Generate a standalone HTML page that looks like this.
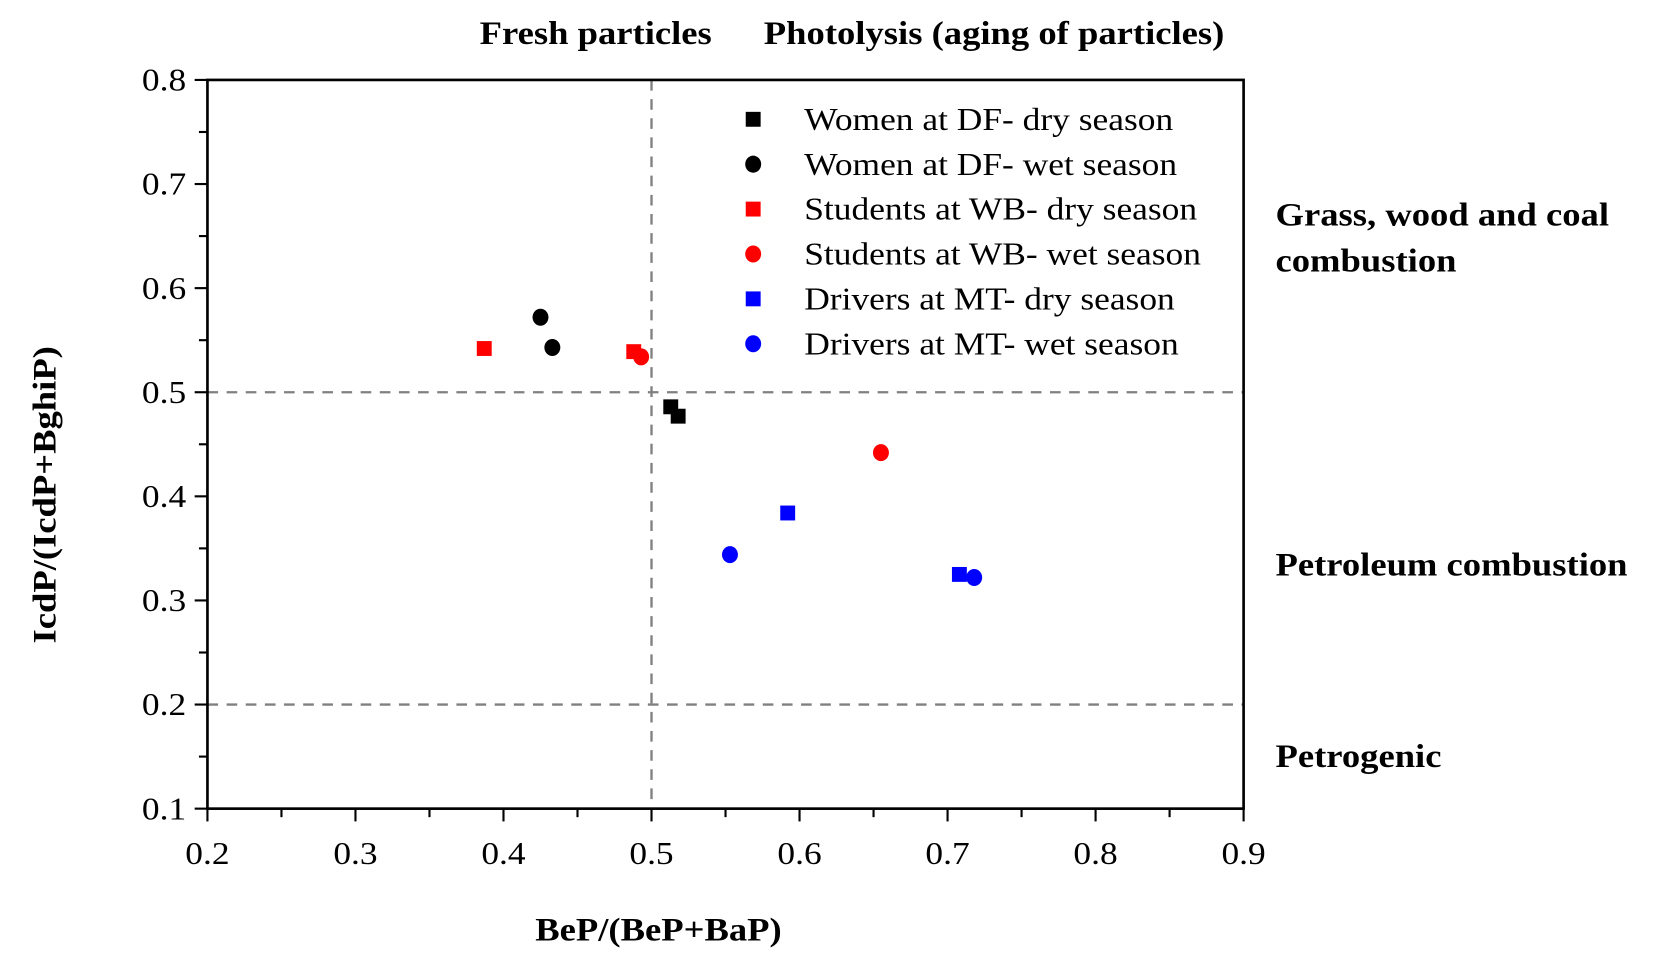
<!DOCTYPE html>
<html><head><meta charset="utf-8"><style>
html,body{margin:0;padding:0;background:#fff;}
svg{display:block;font-family:"Liberation Serif",serif;}
</style></head><body>
<svg id="chart" width="1667" height="979" viewBox="0 0 1567 920" xmlns="http://www.w3.org/2000/svg">
<g id="grid"></g>
<rect x="195" y="75" width="974" height="685" fill="none" stroke="#000" stroke-width="2.5"/>
<g id="axes"></g>
<g id="marks"></g>
<g id="legend"></g>
<text x="560" y="41" text-anchor="middle" font-size="31" font-weight="bold">Fresh particles</text>
<text x="718" y="41" font-size="31" font-weight="bold">Photolysis (aging of particles)</text>
<text x="1199" y="212" font-size="31" font-weight="bold">Grass, wood and coal</text>
<text x="1199" y="255" font-size="31" font-weight="bold">combustion</text>
<text x="1199" y="541" font-size="31" font-weight="bold">Petroleum combustion</text>
<text x="1199" y="721" font-size="31" font-weight="bold">Petrogenic</text>
<text x="619" y="884" text-anchor="middle" font-size="31" font-weight="bold">BeP/(BeP+BaP)</text>
<text x="0" y="0" transform="translate(52,465) rotate(-90)" text-anchor="middle" font-size="31" font-weight="bold">IcdP/(IcdP+BghiP)</text>
</svg>
<script>
const seriesNames = ["Women at DF- dry season","Women at DF- wet season","Students at WB- dry season","Students at WB- wet season","Drivers at MT- dry season","Drivers at MT- wet season"];
const seriesColors = ["#000","#000","#f00","#f00","#00f","#00f"];
const seriesShapes = ["square","circle","square","circle","square","circle"];
const womenDryX = [0.513, 0.518];
const womenDryY = [0.486, 0.477];
const womenWetX = [0.425, 0.433];
const womenWetY = [0.572, 0.543];
const studentsDryX = [0.387, 0.488];
const studentsDryY = [0.542, 0.539];
const studentsWetX = [0.493, 0.655];
const studentsWetY = [0.534, 0.442];
const driversDryX = [0.592, 0.708];
const driversDryY = [0.384, 0.325];
const driversWetX = [0.553, 0.718];
const driversWetY = [0.344, 0.322];
const xTicks = ["0.2","0.3","0.4","0.5","0.6","0.7","0.8","0.9"];
const yTicks = ["0.1","0.2","0.3","0.4","0.5","0.6","0.7","0.8"];
const refX = [0.5];
const refY = [0.5, 0.2];

const NS="http://www.w3.org/2000/svg";
const X0=195,X1=1169,Y0=760,Y1=75;
const xs=v=>X0+(v-0.2)/0.7*(X1-X0);
const ys=v=>Y0-(v-0.1)/0.7*(Y0-Y1);
function mk(tag,attrs,parent){const e=document.createElementNS(NS,tag);for(const k in attrs)e.setAttribute(k,attrs[k]);parent.appendChild(e);return e;}
const grid=document.getElementById('grid'),axes=document.getElementById('axes'),marks=document.getElementById('marks'),legend=document.getElementById('legend');

refX.forEach(v=>{const l=mk('line',{x1:xs(v),x2:xs(v),y1:Y1,y2:Y0,stroke:'#808080','stroke-width':2.2,'stroke-dasharray':'10 8'},grid);

});
refY.forEach(v=>{const l=mk('line',{x1:X0,x2:X1,y1:ys(v),y2:ys(v),stroke:'#808080','stroke-width':2.2,'stroke-dasharray':'10 8'},grid);

});

xTicks.forEach((t,i)=>{const x=xs(parseFloat(t));
const l=mk('line',{x1:x,x2:x,y1:Y0,y2:Y0+12,stroke:'#000','stroke-width':2},axes);


const tx=mk('text',{x:x,y:Y0+52,'text-anchor':'middle','font-size':30},axes);tx.textContent=t;


if(i<xTicks.length-1){const m=xs(parseFloat(t)+0.05);const ml=mk('line',{x1:m,x2:m,y1:Y0,y2:Y0+8,stroke:'#000','stroke-width':2},axes);

}});
yTicks.forEach((t,i)=>{const y=ys(parseFloat(t));
const l=mk('line',{x1:X0-12,x2:X0,y1:y,y2:y,stroke:'#000','stroke-width':2},axes);


const tx=mk('text',{x:X0-20,y:y+10,'text-anchor':'end','font-size':30},axes);tx.textContent=t;


if(i<yTicks.length-1){const m=ys(parseFloat(t)+0.05);const ml=mk('line',{x1:X0-8,x2:X0,y1:m,y2:m,stroke:'#000','stroke-width':2},axes);

}});

function marker(shape,cx,cy,color,parent){
 if(shape==='square')return mk('rect',{x:cx-7,y:cy-7,width:14,height:14,fill:color},parent);
 return mk('ellipse',{cx:cx,cy:cy,rx:7.5,ry:8,fill:color},parent);}
const allX=[womenDryX,womenWetX,studentsDryX,studentsWetX,driversDryX,driversWetX];
const allY=[womenDryY,womenWetY,studentsDryY,studentsWetY,driversDryY,driversWetY];
allX.forEach((xa,s)=>{xa.forEach((v,j)=>{const m=marker(seriesShapes[s],xs(v),ys(allY[s][j]),seriesColors[s],marks);

});});

seriesNames.forEach((n,i)=>{const y=112+i*42.2;
const m=marker(seriesShapes[i],708,y,seriesColors[i],legend);


const t=mk('text',{x:756,y:y+10,'font-size':30},legend);t.textContent=n;

});

document.querySelectorAll('#chart text').forEach(t=>{const w=t.getComputedTextLength();
t.setAttribute('textLength',(w*1.11).toFixed(1));
t.setAttribute('lengthAdjust','spacingAndGlyphs');});
</script>
</body></html>
